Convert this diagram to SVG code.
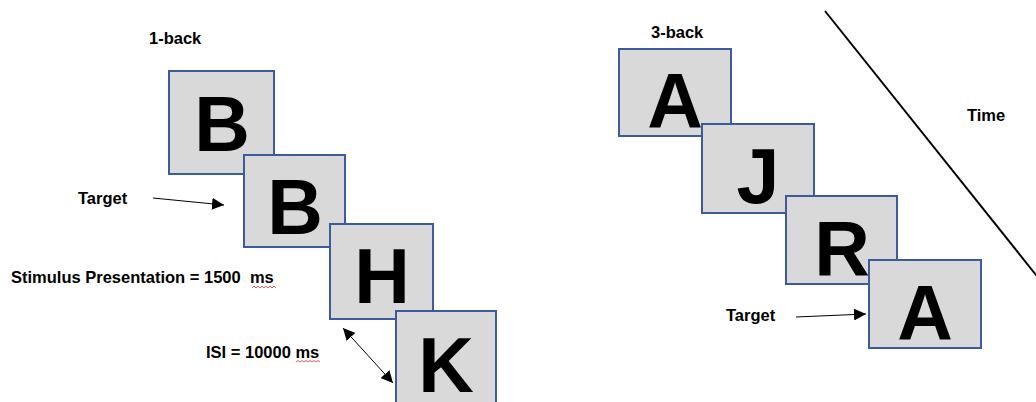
<svg xmlns="http://www.w3.org/2000/svg" width="1036" height="402" viewBox="0 0 1036 402">
<style>
.box{fill:#D9D9D9;stroke:#3B5C9A;stroke-width:2}
.let{font-family:"Liberation Sans",Arial,sans-serif;font-weight:bold;font-size:77px;fill:#000;text-anchor:middle}
.lbl{font-family:"Liberation Sans",Arial,sans-serif;font-weight:bold;font-size:16.5px;fill:#000;white-space:pre}
.con{stroke:#000;stroke-width:1;fill:none}
.sq{stroke:#E03030;stroke-width:0.8;fill:none}
</style>
<defs>
<marker id="ah" viewBox="0 0 10 10" refX="10" refY="5" markerWidth="12" markerHeight="12" markerUnits="userSpaceOnUse" orient="auto-start-reverse">
<path d="M0,0 L10,5 L0,10 z" fill="#000"/>
</marker>
</defs>
<rect width="1036" height="402" fill="#fff"/>
<text class="lbl" x="149" y="44">1-back</text>
<text class="lbl" x="651" y="38">3-back</text>
<text class="lbl" x="967" y="121">Time</text>
<text class="lbl" x="78" y="204">Target</text>
<text class="lbl" x="726" y="321">Target</text>
<text class="lbl" x="11" y="283" xml:space="preserve">Stimulus Presentation = 1500  ms</text>
<text class="lbl" x="206" y="358">ISI = 10000 ms</text>
<path class="sq" d="M252,288 l2,-2 l2,2 l2,-2 l2,2 l2,-2 l2,2 l2,-2 l2,2 l2,-2 l2,2 l2,-2 l2,2"/>
<path class="sq" d="M296,362 l2,-1.5 l2,1.5 l2,-1.5 l2,1.5 l2,-1.5 l2,1.5 l2,-1.5 l2,1.5 l2,-1.5 l2,1.5 l2,-1.5 l2,1.5"/>
<g id="b1"><rect class="box" x="169" y="71" width="105" height="103"/><text class="let" x="222" y="151">B</text></g>
<g id="b2"><rect class="box" x="244" y="155" width="101" height="92"/><text class="let" x="295" y="234">B</text></g>
<g id="h"><rect class="box" x="330" y="224" width="103" height="95"/><text class="let" x="382" y="303">H</text></g>
<g id="k"><rect class="box" x="396" y="311" width="100" height="100"/><text class="let" x="446" y="392">K</text></g>
<g id="a1"><rect class="box" x="619" y="49" width="112" height="87"/><text class="let" x="675" y="128">A</text></g>
<g id="j"><rect class="box" x="702" y="124" width="112" height="89"/><text class="let" x="758" y="203">J</text></g>
<g id="r"><rect class="box" x="786" y="196" width="111" height="88"/><text class="let" x="842" y="275">R</text></g>
<g id="a2"><rect class="box" x="869" y="260" width="112" height="88"/><text class="let" x="925" y="340">A</text></g>
<g id="connectors">
<line class="con" x1="153" y1="198" x2="224" y2="205" marker-end="url(#ah)"/>
<line class="con" x1="796" y1="317" x2="866" y2="314" marker-end="url(#ah)"/>
<line class="con" x1="343" y1="328" x2="393" y2="383" marker-start="url(#ah)" marker-end="url(#ah)"/>
<line x1="825" y1="11" x2="1040" y2="280" stroke="#000" stroke-width="2"/>
</g>
</svg>
